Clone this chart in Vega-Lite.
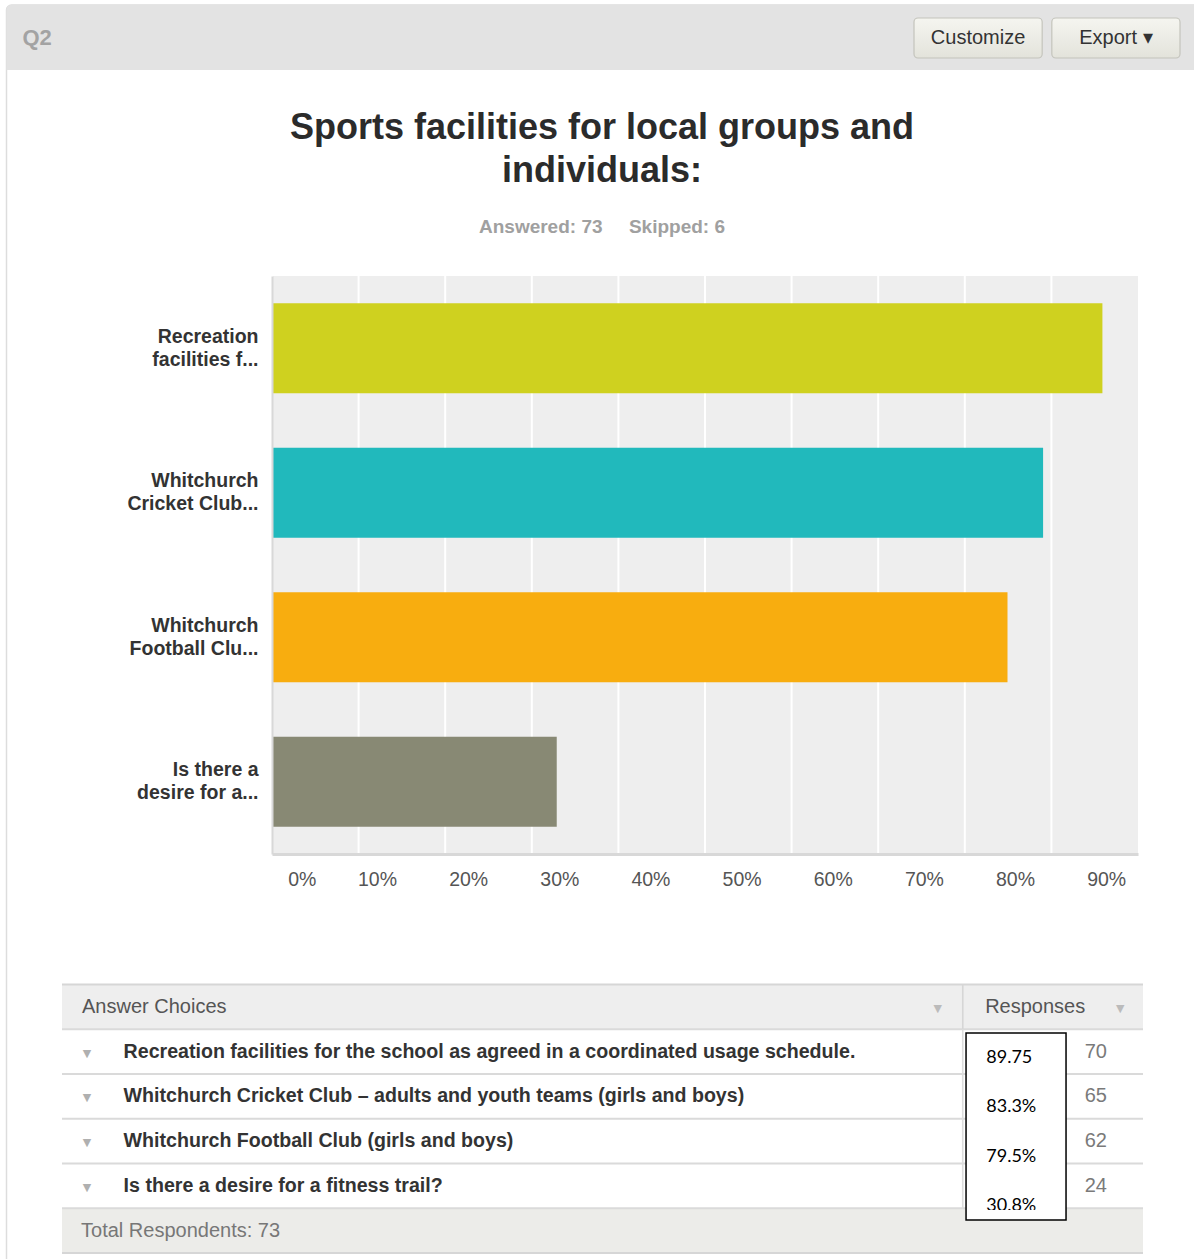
{
  "$schema": "https://vega.github.io/schema/vega-lite/v6.json",
  "width": 1194,
  "height": 1259,
  "padding": 0,
  "autosize": {"type": "none"},
  "background": "#ffffff",
  "config": {"view": {"stroke": null}, "font": "Liberation Sans"},
  "title": {
    "text": ["Sports facilities for local groups and", "individuals:"],
    "subtitle": "Answered: 73\u00a0\u00a0\u00a0\u00a0 Skipped: 6",
    "orient": "top",
    "anchor": "middle",
    "frame": "group",
    "offset": -238,
    "dx": 5,
    "font": "Liberation Sans",
    "fontSize": 36,
    "fontWeight": "bold",
    "color": "#2b2b2b",
    "lineHeight": 43,
    "subtitleFont": "Liberation Sans",
    "subtitleFontSize": 19,
    "subtitleFontWeight": "bold",
    "subtitleColor": "#a0a0a0",
    "subtitlePadding": 28
  },
  "datasets": {
    "bars": [
      {"short": "Recreation\nfacilities f...", "choice": "Recreation facilities for the school as agreed in a coordinated usage schedule.", "pct": 95.89, "count": 70, "shown": "89.75"},
      {"short": "Whitchurch\nCricket Club...", "choice": "Whitchurch Cricket Club – adults and youth teams (girls and boys)", "pct": 89.04, "count": 65, "shown": "83.3%"},
      {"short": "Whitchurch\nFootball Clu...", "choice": "Whitchurch Football Club (girls and boys)", "pct": 84.93, "count": 62, "shown": "79.5%"},
      {"short": "Is there a\ndesire for a...", "choice": "Is there a desire for a fitness trail?", "pct": 32.88, "count": 24, "shown": "30.8%"}
    ],
    "ticks": [{"t": 0}, {"t": 10}, {"t": 20}, {"t": 30}, {"t": 40}, {"t": 50}, {"t": 60}, {"t": 70}, {"t": 80}, {"t": 90}],
    "buttons": [{"label": "Customize"}, {"label": "Export ▾"}],
    "one": [{"k": "one"}]
  },
  "layer": [
    {
      "data": {"name": "one"},
      "mark": {"type": "rect", "fill": "#ffffff", "stroke": "#dddddd", "strokeWidth": 1.5, "cornerRadius": 5},
      "encoding": {
        "x": {"datum": "card", "type": "nominal", "scale": {"type": "band", "range": [6.5, 1230], "paddingInner": 0, "paddingOuter": 0}, "axis": null},
        "y": {"datum": "card", "type": "nominal", "scale": {"type": "band", "range": [5, 1300], "paddingInner": 0, "paddingOuter": 0}, "axis": null}
      }
    },
    {
      "data": {"name": "one"},
      "mark": {"type": "rect", "fill": "#e3e3e3", "cornerRadiusTopLeft": 5},
      "encoding": {
        "x": {"datum": "header", "type": "nominal", "scale": {"type": "band", "range": [6.5, 1230], "paddingInner": 0, "paddingOuter": 0}, "axis": null},
        "y": {"datum": "Q2", "type": "nominal", "scale": {"type": "band", "range": [5, 70], "paddingInner": 0, "paddingOuter": 0},
          "axis": {"orient": "left", "offset": -22, "domain": false, "ticks": false, "tickSize": 0, "labelPadding": 0, "labelAlign": "left", "labelFont": "Liberation Sans", "labelFontSize": 22, "labelFontWeight": "bold", "labelColor": "#a3a3a3", "title": null, "grid": false, "zindex": 1}}
      }
    },
    {
      "data": {"name": "buttons"},
      "encoding": {
        "x": {"field": "label", "type": "nominal", "sort": null, "scale": {"type": "band", "range": [914, 1180], "paddingInner": 0.07, "paddingOuter": 0}, "axis": null},
        "y": {"datum": "button", "type": "nominal", "scale": {"type": "band", "range": [18, 58], "paddingInner": 0, "paddingOuter": 0}, "axis": null}
      },
      "layer": [
        {"mark": {"type": "rect", "cornerRadius": 4, "stroke": "#c4c4bc", "strokeWidth": 1.2,
          "fill": {"gradient": "linear", "x1": 0, "y1": 0, "x2": 0, "y2": 1, "stops": [{"offset": 0, "color": "#f5f5f0"}, {"offset": 1, "color": "#e3e3db"}]}}},
        {"mark": {"type": "text", "font": "Liberation Sans", "fontSize": 20, "color": "#333333"}, "encoding": {"text": {"field": "label"}}}
      ]
    },
    {
      "layer": [
        {
          "data": {"name": "one"},
          "mark": {"type": "rect", "fill": "#eeeeee"},
          "encoding": {
            "x": {"datum": 0, "type": "quantitative", "scale": {"domain": [0, 100], "range": [272, 1138], "nice": false, "zero": false}},
            "x2": {"datum": 100},
            "y": {"datum": 0, "type": "quantitative", "scale": {"domain": [0, 1], "range": [854, 276], "nice": false, "zero": false}, "axis": null},
            "y2": {"datum": 1}
          }
        },
        {
          "data": {"name": "ticks"},
          "mark": {"type": "rule", "color": "#ffffff", "strokeWidth": 2},
          "encoding": {
            "x": {"field": "t", "type": "quantitative", "scale": {"domain": [0, 100], "range": [272, 1138], "nice": false, "zero": false}},
            "y": {"datum": 0, "type": "quantitative", "scale": {"domain": [0, 1], "range": [854, 276], "nice": false, "zero": false}, "axis": null},
            "y2": {"datum": 1}
          }
        },
        {
          "data": {"name": "bars"},
          "mark": {"type": "bar"},
          "encoding": {
            "x": {"field": "pct", "type": "quantitative", "scale": {"domain": [0, 100], "range": [272, 1138], "nice": false, "zero": false},
              "axis": {"orient": "bottom", "offset": -405, "domain": true, "domainColor": "#d8d8d8", "domainWidth": 3, "ticks": false, "labels": false, "grid": false, "title": null, "zindex": 1}},
            "y": {"field": "short", "type": "nominal", "sort": null, "scale": {"range": [276, 854], "paddingInner": 0.377, "paddingOuter": 0.1885},
              "axis": {"orient": "left", "offset": -272, "domain": true, "domainColor": "#d8d8d8", "domainWidth": 2, "ticks": false, "tickSize": 0, "labelPadding": 14,
                "labelFont": "Liberation Sans", "labelFontSize": 19.5, "labelFontWeight": "bold", "labelColor": "#333333", "labelLineHeight": 23, "labelLimit": 0, "labelOffset": -11.5,
                "labelExpr": "split(datum.value, '\\n')", "title": null, "grid": false, "zindex": 1}},
            "color": {"field": "short", "type": "nominal",
              "scale": {"domain": ["Recreation\nfacilities f...", "Whitchurch\nCricket Club...", "Whitchurch\nFootball Clu...", "Is there a\ndesire for a..."], "range": ["#cfd11f", "#21b9bc", "#f8ad0f", "#888974"]},
              "legend": null}
          }
        }
      ],
      "resolve": {"scale": {"y": "independent"}}
    },
    {
      "data": {"name": "ticks"},
      "mark": {"type": "tick", "opacity": 0},
      "encoding": {
        "x": {"field": "t", "type": "quantitative", "scale": {"domain": [-1.52, 93.49], "range": [272, 1138], "nice": false, "zero": false},
          "axis": {"orient": "bottom", "offset": -405, "values": [0, 10, 20, 30, 40, 50, 60, 70, 80, 90], "labelExpr": "datum.value + '%'", "domain": false, "ticks": false, "tickSize": 0, "grid": false,
            "labelOffset": {"condition": {"test": "datum.value === 0", "value": 16}, "value": 0},
            "labelPadding": 16, "labelFont": "Liberation Sans", "labelFontSize": 19.5, "labelColor": "#555555", "labelFlush": false, "labelOverlap": false, "title": null, "zindex": 1}}
      }
    },
    {
      "layer": [
        {"data": {"name": "one"}, "mark": {"type": "rect", "fill": "#eeeeee"},
          "encoding": {
            "x": {"datum": 0, "type": "quantitative", "scale": {"domain": [0, 100], "range": [62, 1143], "nice": false, "zero": false}, "axis": null},
            "x2": {"datum": 100},
            "y": {"datum": "Answer Choices", "type": "nominal", "scale": {"type": "band", "domain": ["Answer Choices", "Recreation facilities for the school as agreed in a coordinated usage schedule.", "Whitchurch Cricket Club – adults and youth teams (girls and boys)", "Whitchurch Football Club (girls and boys)", "Is there a desire for a fitness trail?", "Total Respondents: 73"], "range": [984.5, 1253], "paddingInner": 0, "paddingOuter": 0}, "axis": null}}},
        {"data": {"name": "one"}, "mark": {"type": "rect", "fill": "#ecece9"},
          "encoding": {
            "x": {"datum": 0, "type": "quantitative", "scale": {"domain": [0, 100], "range": [62, 1143], "nice": false, "zero": false}, "axis": null},
            "x2": {"datum": 100},
            "y": {"datum": "Total Respondents: 73", "type": "nominal", "scale": {"type": "band", "domain": ["Answer Choices", "Recreation facilities for the school as agreed in a coordinated usage schedule.", "Whitchurch Cricket Club – adults and youth teams (girls and boys)", "Whitchurch Football Club (girls and boys)", "Is there a desire for a fitness trail?", "Total Respondents: 73"], "range": [984.5, 1253], "paddingInner": 0, "paddingOuter": 0}, "axis": null}}},
        {"data": {"name": "bars"}, "mark": {"type": "rule", "color": "#dadada", "strokeWidth": 2},
          "encoding": {
            "x": {"datum": 0, "type": "quantitative", "scale": {"domain": [0, 100], "range": [62, 1143], "nice": false, "zero": false}, "axis": null},
            "x2": {"datum": 100},
            "y": {"field": "choice", "type": "nominal", "bandPosition": 0, "scale": {"type": "band", "domain": ["Answer Choices", "Recreation facilities for the school as agreed in a coordinated usage schedule.", "Whitchurch Cricket Club – adults and youth teams (girls and boys)", "Whitchurch Football Club (girls and boys)", "Is there a desire for a fitness trail?", "Total Respondents: 73"], "range": [984.5, 1253], "paddingInner": 0, "paddingOuter": 0}, "axis": null}}},
        {"data": {"name": "one"}, "mark": {"type": "rule", "color": "#d6d6d6", "strokeWidth": 2},
          "encoding": {
            "x": {"datum": 0, "type": "quantitative", "scale": {"domain": [0, 100], "range": [62, 1143], "nice": false, "zero": false}, "axis": null},
            "x2": {"datum": 100},
            "y": {"datum": "Answer Choices", "type": "nominal", "bandPosition": 0, "scale": {"type": "band", "domain": ["Answer Choices", "Recreation facilities for the school as agreed in a coordinated usage schedule.", "Whitchurch Cricket Club – adults and youth teams (girls and boys)", "Whitchurch Football Club (girls and boys)", "Is there a desire for a fitness trail?", "Total Respondents: 73"], "range": [984.5, 1253], "paddingInner": 0, "paddingOuter": 0}, "axis": null}}},
        {"data": {"name": "one"}, "mark": {"type": "rule", "color": "#dadada", "strokeWidth": 2},
          "encoding": {
            "x": {"datum": 0, "type": "quantitative", "scale": {"domain": [0, 100], "range": [62, 1143], "nice": false, "zero": false}, "axis": null},
            "x2": {"datum": 100},
            "y": {"datum": "Total Respondents: 73", "type": "nominal", "bandPosition": 0, "scale": {"type": "band", "domain": ["Answer Choices", "Recreation facilities for the school as agreed in a coordinated usage schedule.", "Whitchurch Cricket Club – adults and youth teams (girls and boys)", "Whitchurch Football Club (girls and boys)", "Is there a desire for a fitness trail?", "Total Respondents: 73"], "range": [984.5, 1253], "paddingInner": 0, "paddingOuter": 0}, "axis": null}}},
        {"data": {"name": "one"}, "mark": {"type": "rule", "color": "#d6d6d6", "strokeWidth": 2},
          "encoding": {
            "x": {"datum": 0, "type": "quantitative", "scale": {"domain": [0, 100], "range": [62, 1143], "nice": false, "zero": false}, "axis": null},
            "x2": {"datum": 100},
            "y": {"datum": "Total Respondents: 73", "type": "nominal", "bandPosition": 1, "scale": {"type": "band", "domain": ["Answer Choices", "Recreation facilities for the school as agreed in a coordinated usage schedule.", "Whitchurch Cricket Club – adults and youth teams (girls and boys)", "Whitchurch Football Club (girls and boys)", "Is there a desire for a fitness trail?", "Total Respondents: 73"], "range": [984.5, 1253], "paddingInner": 0, "paddingOuter": 0}, "axis": null}}},
        {"data": {"name": "one"}, "mark": {"type": "rect", "fill": "#d6d6d6"},
          "encoding": {
            "x": {"datum": 83.25, "type": "quantitative", "scale": {"domain": [0, 100], "range": [62, 1143], "nice": false, "zero": false}, "axis": null},
            "x2": {"datum": 83.4},
            "y": {"datum": "Answer Choices", "type": "nominal", "scale": {"type": "band", "domain": ["Answer Choices", "Recreation facilities for the school as agreed in a coordinated usage schedule.", "Whitchurch Cricket Club – adults and youth teams (girls and boys)", "Whitchurch Football Club (girls and boys)", "Is there a desire for a fitness trail?", "Total Respondents: 73"], "range": [984.5, 1253], "paddingInner": 0, "paddingOuter": 0}, "axis": null}}},
        {"data": {"name": "bars"}, "mark": {"type": "rect", "fill": "#dcdcdc"},
          "encoding": {
            "x": {"datum": 83.25, "type": "quantitative", "scale": {"domain": [0, 100], "range": [62, 1143], "nice": false, "zero": false}, "axis": null},
            "x2": {"datum": 83.4},
            "y": {"field": "choice", "type": "nominal", "scale": {"type": "band", "domain": ["Answer Choices", "Recreation facilities for the school as agreed in a coordinated usage schedule.", "Whitchurch Cricket Club – adults and youth teams (girls and boys)", "Whitchurch Football Club (girls and boys)", "Is there a desire for a fitness trail?", "Total Respondents: 73"], "range": [984.5, 1253], "paddingInner": 0, "paddingOuter": 0}, "axis": null}}},
        {"data": {"name": "bars"}, "mark": {"type": "text", "font": "DejaVu Sans", "fontSize": 11, "color": "#b0b0b0", "text": "▼", "dy": 2},
          "encoding": {
            "x": {"datum": 2.31, "type": "quantitative", "scale": {"domain": [0, 100], "range": [62, 1143], "nice": false, "zero": false}, "axis": null},
            "y": {"field": "choice", "type": "nominal", "scale": {"type": "band", "domain": ["Answer Choices", "Recreation facilities for the school as agreed in a coordinated usage schedule.", "Whitchurch Cricket Club – adults and youth teams (girls and boys)", "Whitchurch Football Club (girls and boys)", "Is there a desire for a fitness trail?", "Total Respondents: 73"], "range": [984.5, 1253], "paddingInner": 0, "paddingOuter": 0}, "axis": null}}},
        {"data": {"name": "bars"}, "mark": {"type": "text", "align": "left", "font": "Liberation Sans", "fontSize": 19.6, "fontWeight": "bold", "color": "#333333"},
          "encoding": {
            "x": {"datum": 5.7, "type": "quantitative", "scale": {"domain": [0, 100], "range": [62, 1143], "nice": false, "zero": false}, "axis": null},
            "y": {"field": "choice", "type": "nominal", "scale": {"type": "band", "domain": ["Answer Choices", "Recreation facilities for the school as agreed in a coordinated usage schedule.", "Whitchurch Cricket Club – adults and youth teams (girls and boys)", "Whitchurch Football Club (girls and boys)", "Is there a desire for a fitness trail?", "Total Respondents: 73"], "range": [984.5, 1253], "paddingInner": 0, "paddingOuter": 0}, "axis": null},
            "text": {"field": "choice"}}},
        {"data": {"name": "bars"}, "mark": {"type": "text", "align": "left", "font": "Liberation Sans", "fontSize": 20, "color": "#7a7a7a"},
          "encoding": {
            "x": {"datum": 94.6, "type": "quantitative", "scale": {"domain": [0, 100], "range": [62, 1143], "nice": false, "zero": false}, "axis": null},
            "y": {"field": "choice", "type": "nominal", "scale": {"type": "band", "domain": ["Answer Choices", "Recreation facilities for the school as agreed in a coordinated usage schedule.", "Whitchurch Cricket Club – adults and youth teams (girls and boys)", "Whitchurch Football Club (girls and boys)", "Is there a desire for a fitness trail?", "Total Respondents: 73"], "range": [984.5, 1253], "paddingInner": 0, "paddingOuter": 0}, "axis": null},
            "text": {"field": "count"}}},
        {"data": {"name": "one"}, "mark": {"type": "text", "align": "left", "font": "Liberation Sans", "fontSize": 20, "color": "#555555", "text": "Answer Choices"},
          "encoding": {
            "x": {"datum": 1.85, "type": "quantitative", "scale": {"domain": [0, 100], "range": [62, 1143], "nice": false, "zero": false}, "axis": null},
            "y": {"datum": "Answer Choices", "type": "nominal", "scale": {"type": "band", "domain": ["Answer Choices", "Recreation facilities for the school as agreed in a coordinated usage schedule.", "Whitchurch Cricket Club – adults and youth teams (girls and boys)", "Whitchurch Football Club (girls and boys)", "Is there a desire for a fitness trail?", "Total Respondents: 73"], "range": [984.5, 1253], "paddingInner": 0, "paddingOuter": 0}, "axis": null}}},
        {"data": {"name": "one"}, "mark": {"type": "text", "align": "left", "font": "Liberation Sans", "fontSize": 20, "color": "#555555", "text": "Responses"},
          "encoding": {
            "x": {"datum": 85.4, "type": "quantitative", "scale": {"domain": [0, 100], "range": [62, 1143], "nice": false, "zero": false}, "axis": null},
            "y": {"datum": "Answer Choices", "type": "nominal", "scale": {"type": "band", "domain": ["Answer Choices", "Recreation facilities for the school as agreed in a coordinated usage schedule.", "Whitchurch Cricket Club – adults and youth teams (girls and boys)", "Whitchurch Football Club (girls and boys)", "Is there a desire for a fitness trail?", "Total Respondents: 73"], "range": [984.5, 1253], "paddingInner": 0, "paddingOuter": 0}, "axis": null}}},
        {"data": {"name": "one"}, "mark": {"type": "text", "font": "DejaVu Sans", "fontSize": 11, "color": "#bbbbbb", "text": "▼", "dy": 2},
          "encoding": {
            "x": {"datum": 81.0, "type": "quantitative", "scale": {"domain": [0, 100], "range": [62, 1143], "nice": false, "zero": false}, "axis": null},
            "y": {"datum": "Answer Choices", "type": "nominal", "scale": {"type": "band", "domain": ["Answer Choices", "Recreation facilities for the school as agreed in a coordinated usage schedule.", "Whitchurch Cricket Club – adults and youth teams (girls and boys)", "Whitchurch Football Club (girls and boys)", "Is there a desire for a fitness trail?", "Total Respondents: 73"], "range": [984.5, 1253], "paddingInner": 0, "paddingOuter": 0}, "axis": null}}},
        {"data": {"name": "one"}, "mark": {"type": "text", "font": "DejaVu Sans", "fontSize": 11, "color": "#bbbbbb", "text": "▼", "dy": 2},
          "encoding": {
            "x": {"datum": 97.9, "type": "quantitative", "scale": {"domain": [0, 100], "range": [62, 1143], "nice": false, "zero": false}, "axis": null},
            "y": {"datum": "Answer Choices", "type": "nominal", "scale": {"type": "band", "domain": ["Answer Choices", "Recreation facilities for the school as agreed in a coordinated usage schedule.", "Whitchurch Cricket Club – adults and youth teams (girls and boys)", "Whitchurch Football Club (girls and boys)", "Is there a desire for a fitness trail?", "Total Respondents: 73"], "range": [984.5, 1253], "paddingInner": 0, "paddingOuter": 0}, "axis": null}}},
        {"data": {"name": "one"}, "mark": {"type": "text", "align": "left", "font": "Liberation Sans", "fontSize": 20, "color": "#777777", "text": "Total Respondents: 73"},
          "encoding": {
            "x": {"datum": 1.76, "type": "quantitative", "scale": {"domain": [0, 100], "range": [62, 1143], "nice": false, "zero": false}, "axis": null},
            "y": {"datum": "Total Respondents: 73", "type": "nominal", "scale": {"type": "band", "domain": ["Answer Choices", "Recreation facilities for the school as agreed in a coordinated usage schedule.", "Whitchurch Cricket Club – adults and youth teams (girls and boys)", "Whitchurch Football Club (girls and boys)", "Is there a desire for a fitness trail?", "Total Respondents: 73"], "range": [984.5, 1253], "paddingInner": 0, "paddingOuter": 0}, "axis": null}}}
      ]
    },
    {
      "layer": [
        {"data": {"name": "one"}, "mark": {"type": "rect", "fill": "#ffffff", "stroke": "#000000", "strokeWidth": 1.5},
          "encoding": {
            "x": {"datum": 83.63, "type": "quantitative", "scale": {"domain": [0, 100], "range": [62, 1143], "nice": false, "zero": false}, "axis": null},
            "x2": {"datum": 92.88},
            "y": {"datum": 0, "type": "quantitative", "scale": {"domain": [0, 1], "range": [1033, 1220], "nice": false, "zero": false}, "axis": null},
            "y2": {"datum": 1}}},
        {"data": {"name": "bars"}, "mark": {"type": "text", "align": "left", "font": "Lato", "fontSize": 18, "color": "#000000"},
          "encoding": {
            "x": {"datum": 85.5, "type": "quantitative", "scale": {"domain": [0, 100], "range": [62, 1143], "nice": false, "zero": false}, "axis": null},
            "y": {"field": "choice", "type": "nominal", "sort": null, "scale": {"type": "band", "domain": ["Recreation facilities for the school as agreed in a coordinated usage schedule.", "Whitchurch Cricket Club – adults and youth teams (girls and boys)", "Whitchurch Football Club (girls and boys)", "Is there a desire for a fitness trail?"], "range": [1033, 1231], "paddingInner": 0, "paddingOuter": 0}, "axis": null},
            "text": {"field": "shown"}}},
        {"data": {"name": "one"}, "mark": {"type": "rect", "fill": "#ffffff"},
          "encoding": {
            "x": {"datum": 83.75, "type": "quantitative", "scale": {"domain": [0, 100], "range": [62, 1143], "nice": false, "zero": false}, "axis": null},
            "x2": {"datum": 92.78},
            "y": {"datum": 0.946, "type": "quantitative", "scale": {"domain": [0, 1], "range": [1033, 1220], "nice": false, "zero": false}, "axis": null},
            "y2": {"datum": 0.993}}}
      ],
      "resolve": {"scale": {"y": "independent"}}
    }
  ],
  "resolve": {"scale": {"x": "independent", "y": "independent", "color": "independent"}}
}
